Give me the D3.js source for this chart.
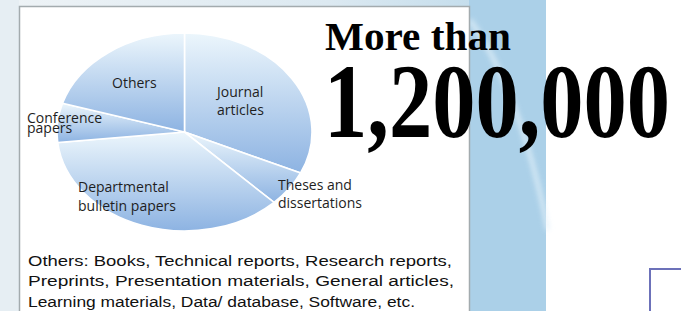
<!DOCTYPE html>
<html>
<head>
<meta charset="utf-8">
<script src="https://cdn.jsdelivr.net/npm/d3@7"></script>
<style>
  html, body { margin: 0; padding: 0; background: #fff; }
  svg { display: block; }
</style>
</head>
<body>
<div id="chart"></div>
<script>
// item types (share of the pie)
const categories = ['Journal articles', 'Theses and dissertations', 'Departmental bulletin papers', 'Conference papers', 'Others'];
const shares = [31.8, 5.8, 35.7, 6.4, 20.3];
const labelLines = [
  ['Journal', 'articles'],
  ['Theses and', 'dissertations'],
  ['Departmental', 'bulletin papers'],
  ['Conference', 'papers'],
  ['Others']
];
const headline = ['More than', '1,200,000'];
const footnote = [
  'Others: Books, Technical reports, Research reports,',
  'Preprints, Presentation materials, General articles,',
  'Learning materials, Data/ database, Software, etc.'
];

const width = 681, height = 311;

// where each label block sits (left x, first baseline, line step)
const labelLayout = {
  'Journal articles': { x: 217, y: 97, dy: 18 },
  'Theses and dissertations': { x: 278, y: 190, dy: 18 },
  'Departmental bulletin papers': { x: 78, y: 192, dy: 19 },
  'Conference papers': { x: 27, y: 123, dy: 10 },
  'Others': { x: 112, y: 88, dy: 18 }
};

const svg = d3.select('#chart').append('svg')
  .attr('width', width)
  .attr('height', height);

const defs = svg.append('defs');

// backdrop
const bg = defs.append('linearGradient').attr('id', 'bgTop')
  .attr('x1', 0).attr('x2', 1).attr('y1', 0).attr('y2', 0);
bg.append('stop').attr('offset', '0%').attr('stop-color', '#eef3f6');
bg.append('stop').attr('offset', '60%').attr('stop-color', '#dce9f1');
bg.append('stop').attr('offset', '100%').attr('stop-color', '#b9d8ea');

svg.append('rect').attr('x', 0).attr('y', 0).attr('width', 546).attr('height', height)
  .attr('fill', 'url(#bgTop)');
svg.append('rect').attr('x', 0).attr('y', 0).attr('width', 19).attr('height', height)
  .attr('fill', '#e6eef3');

// blue panel right of the box
svg.append('rect').attr('x', 469).attr('y', 0).attr('width', 77).attr('height', height)
  .attr('fill', '#abd0e8');
const streak = defs.append('filter').attr('id', 'blur');
streak.append('feGaussianBlur').attr('stdDeviation', 2.5);
svg.append('path')
  .attr('d', 'M470,20 Q520,90 548,230')
  .attr('fill', 'none')
  .attr('stroke', '#e4f2fa')
  .attr('stroke-width', 5)
  .attr('opacity', 0.7)
  .attr('filter', 'url(#blur)');

// white card
svg.append('rect')
  .attr('x', 19.5).attr('y', 6.5)
  .attr('width', 450).attr('height', 320)
  .attr('fill', '#fff')
  .attr('stroke', '#a3abae')
  .attr('stroke-width', 1.5);

// partial frame bottom right
svg.append('rect')
  .attr('x', 650).attr('y', 269)
  .attr('width', 60).attr('height', 60)
  .attr('fill', '#fff')
  .attr('stroke', '#6c71b9')
  .attr('stroke-width', 2);

// pie: circle squeezed into an ellipse
const cx = 184.5, cy = 132, rx = 127.5, ry = 99;

const grad = defs.append('linearGradient').attr('id', 'slice')
  .attr('x1', 0).attr('x2', 0).attr('y1', 0).attr('y2', 1);
grad.append('stop').attr('offset', '0%').attr('stop-color', '#ecf6fc');
grad.append('stop').attr('offset', '100%').attr('stop-color', '#8db3e2');

const pie = d3.pie().sort(null).value(d => d)
  .startAngle(0).endAngle(2 * Math.PI);
const arc = d3.arc().innerRadius(0).outerRadius(rx);

const pieG = svg.append('g')
  .attr('transform', `translate(${cx},${cy}) scale(1,${ry / rx})`);

pieG.selectAll('path')
  .data(pie(shares))
  .join('path')
  .attr('d', arc)
  .attr('fill', 'url(#slice)')
  .attr('stroke', '#fff')
  .attr('stroke-width', 1.6)
  .attr('vector-effect', 'non-scaling-stroke');

// slice labels
categories.forEach((cat, i) => {
  const lay = labelLayout[cat];
  const t = svg.append('text')
    .attr('font-family', 'Open Sans, sans-serif')
    .attr('font-size', 14)
    .attr('fill', '#1e1e1e');
  labelLines[i].forEach((line, j) => {
    t.append('tspan')
      .attr('x', lay.x)
      .attr('y', lay.y + j * lay.dy)
      .text(line);
  });
});

// headline
svg.append('text')
  .attr('x', 325).attr('y', 50)
  .attr('font-family', 'Liberation Serif, serif')
  .attr('font-weight', 'bold')
  .attr('font-size', 41)
  .attr('textLength', 186)
  .attr('lengthAdjust', 'spacingAndGlyphs')
  .attr('fill', '#000')
  .text(headline[0]);

svg.append('text')
  .attr('x', 324).attr('y', 137)
  .attr('font-family', 'Liberation Serif, serif')
  .attr('font-weight', 'bold')
  .attr('font-size', 106)
  .attr('textLength', 346)
  .attr('lengthAdjust', 'spacingAndGlyphs')
  .attr('fill', '#000')
  .text(headline[1]);

// footnote
const footW = [424, 426, 387];
footnote.forEach((line, i) => {
  svg.append('text')
    .attr('x', 28)
    .attr('y', 265.5 + i * 20.5)
    .attr('font-family', 'Liberation Sans, Arial, sans-serif')
    .attr('font-size', 15.5)
    .attr('font-weight', 500)
    .attr('textLength', footW[i])
    .attr('lengthAdjust', 'spacingAndGlyphs')
    .attr('fill', '#111')
    .text(line);
});
</script>
</body>
</html>
